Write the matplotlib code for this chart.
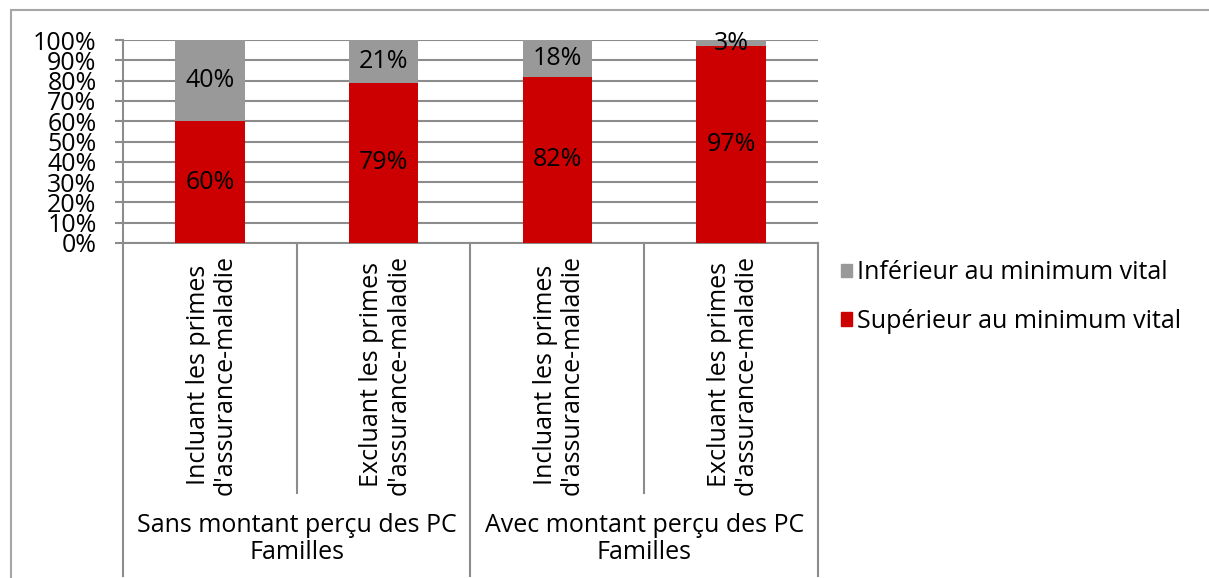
import matplotlib
matplotlib.use('Agg')
import matplotlib.pyplot as plt
from matplotlib.patches import Rectangle, Patch

plt.rcParams['font.family'] = ['Open Sans', 'DejaVu Sans']

categories = ['Incluant les primes\nd\'assurance-maladie',
              'Excluant les primes\nd\'assurance-maladie',
              'Incluant les primes\nd\'assurance-maladie',
              'Excluant les primes\nd\'assurance-maladie']
groups = ['Sans montant perçu des PC\nFamilles', 'Avec montant perçu des PC\nFamilles']
superieur = [60, 79, 82, 97]
inferieur = [40, 21, 18, 3]

red = '#cc0000'
grey = '#999999'
line_grey = '#8c8c8c'
fs = 18

W, H = 1209, 578
fig = plt.figure(figsize=(W / 100, H / 100), dpi=100)
fig.patches.append(Rectangle((11 / W, -0.1), 1.2, 1.1 - 10.5 / H, transform=fig.transFigure,
                             fill=False, edgecolor='#a6a6a6', linewidth=1.5))

ax = fig.add_axes([123 / W, (H - 243) / H, (818 - 123) / W, (243 - 40) / H])
x = list(range(len(categories)))
ax.bar(x, superieur, width=0.4, color=red, zorder=3)
ax.bar(x, inferieur, width=0.4, bottom=superieur, color=grey, zorder=3)

for i in x:
    ax.text(i, superieur[i] / 2, '%d%%' % superieur[i], ha='center', va='center', fontsize=fs, zorder=4)
    ax.text(i, superieur[i] + inferieur[i] / 2, '%d%%' % inferieur[i], ha='center', va='center', fontsize=fs, zorder=4)

ax.set_xlim(-0.5, 3.5)
ax.set_ylim(0, 100)
ax.set_yticks(range(0, 101, 10))
ax.set_yticklabels(['%d%%' % v for v in range(0, 101, 10)], fontsize=fs)
ax.tick_params(axis='y', direction='out', length=6, width=1.5, color=line_grey, pad=13)
ax.set_xticks([])
ax.yaxis.grid(True, color=line_grey, linewidth=1.5, zorder=0)
for s in ['top', 'right']:
    ax.spines[s].set_visible(False)
for s in ['left', 'bottom']:
    ax.spines[s].set_color(line_grey)
    ax.spines[s].set_linewidth(1.5)

tr = ax.get_xaxis_transform()
for i, lab in enumerate(categories):
    ax.text(i + 0.01, -0.65, lab, transform=tr, rotation=90, ha='center', va='center',
            multialignment='center', fontsize=fs, linespacing=1.1)
for j, g in enumerate(groups):
    ax.text(2 * j + 0.5, -1.46, g, transform=tr, ha='center', va='center',
            multialignment='center', fontsize=fs, linespacing=1.1)
for xs in [0.5, 2.5]:
    ax.plot([xs, xs], [0, -1.232], transform=tr, color=line_grey, lw=1.5, clip_on=False)
for xs in [-0.5, 1.5, 3.5]:
    ax.plot([xs, xs], [0, -1.64], transform=tr, color=line_grey, lw=1.5, clip_on=False)

handles = [Patch(color=grey), Patch(color=red)]
fig.legend(handles, ['Inférieur au minimum vital', 'Supérieur au minimum vital'],
           loc='center left', bbox_to_anchor=(841 / W, 1 - 297 / H), frameon=False,
           fontsize=fs, handlelength=0.45, handleheight=0.45, handletextpad=0.2,
           labelspacing=0.95, borderpad=0, borderaxespad=0)

fig.savefig('out.png', dpi=100)
